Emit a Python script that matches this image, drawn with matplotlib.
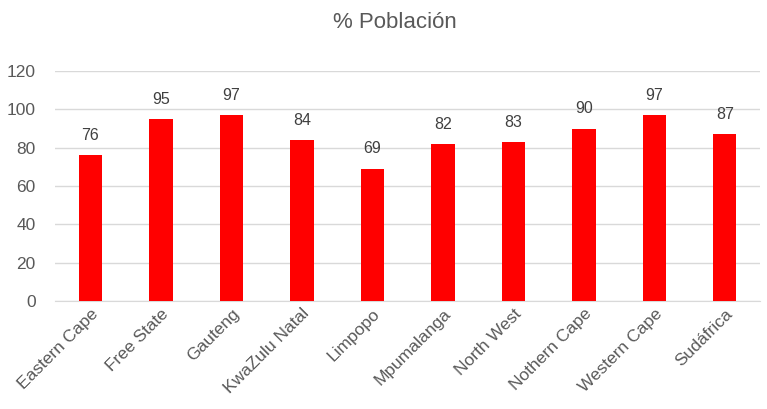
import matplotlib.pyplot as plt

plt.rcParams['font.family'] = ['Liberation Sans', 'DejaVu Sans']

provincias = ['Eastern Cape', 'Free State', 'Gauteng', 'KwaZulu Natal', 'Limpopo',
              'Mpumalanga', 'North West', 'Nothern Cape', 'Western Cape', 'Sudáfrica']
poblacion = [76, 95, 97, 84, 69, 82, 83, 90, 97, 87]

fig = plt.figure(figsize=(7.67, 4.09), dpi=100)
ax = fig.add_axes([0.072, 0.264, 0.919, 0.562])

x = range(len(provincias))
barras = ax.bar(x, poblacion, width=0.33, color='#FF0000', zorder=3)
for b, v in zip(barras, poblacion):
    ax.text(b.get_x() + b.get_width() / 2, v + 6.5, str(v), ha='center', va='bottom',
            fontsize=11.5, color='#404040')

ax.set_ylim(0, 120)
ax.set_xlim(-0.5, len(provincias) - 0.5)
ax.set_yticks(range(0, 121, 20))
ax.yaxis.grid(True, color='#D9D9D9', linewidth=1, zorder=0)
for s in ['top', 'right', 'left']:
    ax.spines[s].set_visible(False)
ax.spines['bottom'].set_color('#D9D9D9')
ax.tick_params(axis='both', length=0, labelsize=12.5, colors='#595959')
ax.tick_params(axis='y', pad=14)
ax.set_xticks(list(x))
ax.set_xticklabels(provincias, rotation=45, ha='right', rotation_mode='anchor')

fig.suptitle('% Población', x=0.515, y=0.97, fontsize=16, color='#595959')

fig.savefig('out.png')
